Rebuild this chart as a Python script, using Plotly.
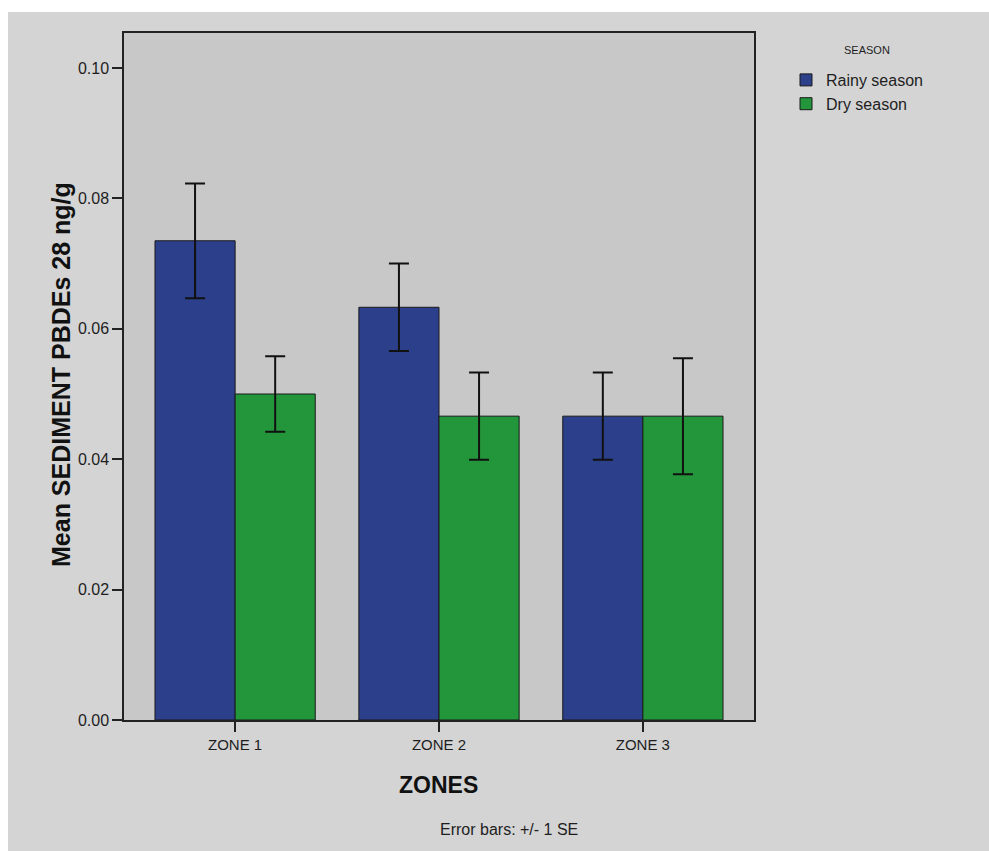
import plotly.graph_objects as go

# Mean sediment PBDE-28 concentration (ng/g) by zone and season, with +/- 1 SE
zones = ["ZONE 1", "ZONE 2", "ZONE 3"]
rainy_mean = [0.0735, 0.0633, 0.0466]
rainy_se = [0.0088, 0.0067, 0.0067]
dry_mean = [0.0500, 0.0466, 0.0466]
dry_se = [0.0058, 0.0067, 0.0089]
y_ticks = [0.00, 0.02, 0.04, 0.06, 0.08, 0.10]

W, H = 989, 851
L, R, T, B = 124, 235, 33, 131
PW, PH = W - L - R, H - T - B

FONT = "Liberation Sans, Arial, sans-serif"
INK = "#1e1e1e"

err_style = dict(type="data", visible=True, color="#111111", thickness=2, width=10)

fig = go.Figure()
fig.add_trace(go.Bar(
    name="Rainy season", x=zones, y=rainy_mean,
    marker=dict(color="#2c3f8a", line=dict(color="#1a1a1a", width=1)),
    error_y=dict(array=rainy_se, **err_style),
))
fig.add_trace(go.Bar(
    name="Dry season", x=zones, y=dry_mean,
    marker=dict(color="#23953a", line=dict(color="#1a1a1a", width=1)),
    error_y=dict(array=dry_se, **err_style),
))


def px_x(p):
    return (p - L) / PW


def px_y(p):
    return 1 - (p - T) / PH


# white strips along the top and left edges of the page
strips = [
    dict(x0=px_x(0), x1=px_x(W), y0=px_y(0), y1=px_y(12)),
    dict(x0=px_x(0), x1=px_x(8), y0=px_y(0), y1=px_y(H)),
]
shapes = [dict(type="rect", xref="paper", yref="paper", layer="below",
               fillcolor="white", line=dict(width=0), **s) for s in strips]

annotations = [
    dict(text="<b>Mean SEDIMENT PBDEs 28 ng/g</b>", textangle=-90,
         x=px_x(61), y=px_y(375), xref="paper", yref="paper",
         xanchor="center", yanchor="middle", showarrow=False,
         font=dict(family=FONT, size=25, color="#111111")),
    dict(text="<b>ZONES</b>", x=px_x(438), y=px_y(785),
         xref="paper", yref="paper", xanchor="center", yanchor="middle",
         showarrow=False, font=dict(family=FONT, size=23, color="#111111")),
    dict(text="Error bars: +/- 1 SE", x=px_x(509), y=px_y(829),
         xref="paper", yref="paper", xanchor="center", yanchor="middle",
         showarrow=False, font=dict(family=FONT, size=16, color=INK)),
    dict(text="SEASON", x=px_x(867), y=px_y(50),
         xref="paper", yref="paper", xanchor="center", yanchor="middle",
         showarrow=False, font=dict(family=FONT, size=11, color=INK)),
]

fig.update_layout(
    width=W, height=H,
    margin=dict(l=L, r=R, t=T, b=B, autoexpand=False),
    paper_bgcolor="#d4d4d4",
    plot_bgcolor="#c8c8c8",
    barmode="group", bargap=0.214, bargroupgap=0,
    font=dict(family=FONT, size=16, color=INK),
    showlegend=True,
    legend=dict(x=px_x(786), y=px_y(63), xanchor="left", yanchor="top",
                bgcolor="rgba(0,0,0,0)", font=dict(family=FONT, size=16, color=INK),
                itemwidth=30, tracegroupgap=0),
    shapes=shapes,
    annotations=annotations,
)
fig.update_xaxes(
    range=[-0.545, 2.545], showline=True, mirror=True, linecolor="#222222", linewidth=1.5,
    ticks="outside", ticklen=10, tickwidth=1.5, tickcolor="#222222",
    tickfont=dict(family=FONT, size=15, color=INK), showgrid=False, zeroline=False,
)
fig.update_yaxes(
    range=[0, 0.10 * (720 - 33) / (720 - 68)], tickvals=y_ticks,
    ticktext=[f"{v:.2f}" for v in y_ticks],
    showline=True, mirror=True, linecolor="#222222", linewidth=1.5,
    ticks="outside", ticklen=10, tickwidth=1.5, tickcolor="#222222",
    tickfont=dict(family=FONT, size=16, color=INK), showgrid=False, zeroline=False,
)

fig.write_html("out.html")
